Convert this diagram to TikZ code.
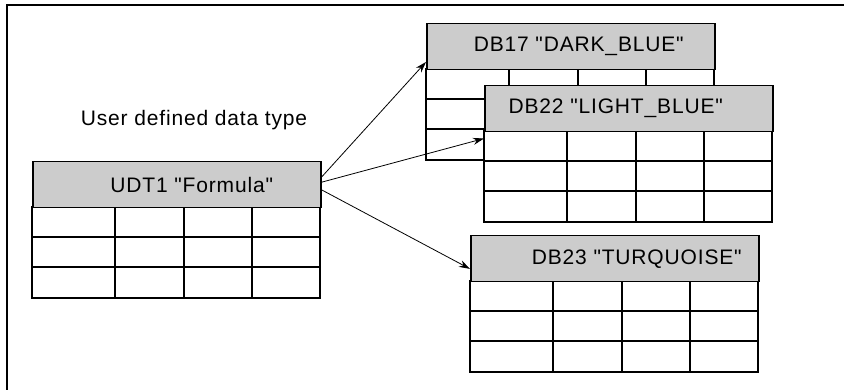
\documentclass[tikz,border=0pt]{standalone}
\usepackage{fontspec}
\setmainfont[LetterSpace=4,Ligatures=TeXOff]{Liberation Sans}
\usetikzlibrary{arrows.meta}

\begin{document}
\begin{tikzpicture}[x=1pt,y=-1pt,>={Stealth[length=11pt,width=7pt]},
  every node/.style={font=\fontsize{21}{25}\selectfont},
  head/.style={draw,line width=1.5pt,fill=black!20,minimum width=288pt,minimum height=46pt,inner sep=0pt},
  grid/.style={line width=1.5pt},
  link/.style={->,line width=0.8pt}]
  \useasboundingbox (0,0) rectangle (844,390);
  \draw[line width=2pt] (6,5) -- (844,5);
  \draw[line width=2.5pt] (7,5) -- (7,390);
  \foreach \nm/\x/\y/\dx/\txt in {udt/32/161/15/UDT1 "Formula",
      db17/426/23/8/DB17 "DARK\_BLUE",
      db22/484/85/-13/DB22 "LIGHT\_BLUE",
      db23/470/235/22/DB23 "TURQUOISE"}{
    \draw[grid,fill=white] (\x,\y+46) rectangle (\x+288,\y+137);
    \draw[grid] (\x,\y+76) -- (\x+288,\y+76) (\x,\y+106) -- (\x+288,\y+106);
    \draw[grid] (\x+83,\y+46) -- (\x+83,\y+137) (\x+152,\y+46) -- (\x+152,\y+137)
      (\x+220,\y+46) -- (\x+220,\y+137);
    \node[head,anchor=north west] (\nm) at (\x,\y) {};
    \node at ([xshift=\dx pt]\nm.center) {\txt};
  }
  \node (title) at (194,120) {User defined data type};
  \draw[link] (udt.3) -- (db17.186);
  \draw[link] (udt.1) -- ([yshift=-6pt]db22.south west);
  \draw[link] (udt.-2) -- (db23.184);
\end{tikzpicture}
\end{document}
